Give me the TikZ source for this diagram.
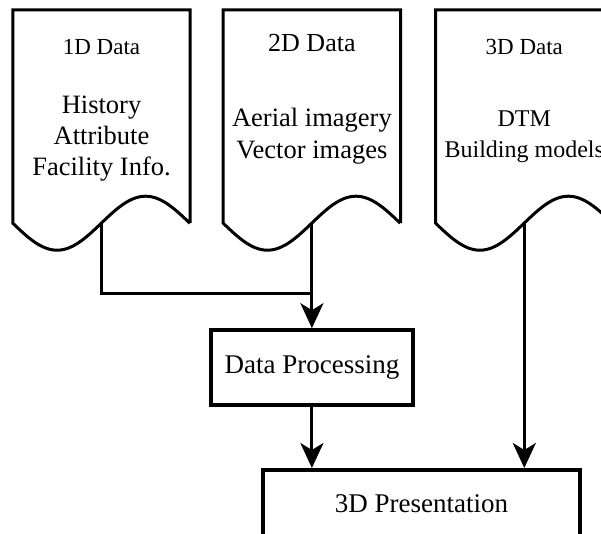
\documentclass[tikz,border=0pt]{standalone}
\usepackage{fontspec}
\setmainfont{Liberation Serif}
\usetikzlibrary{arrows.meta,positioning,calc}

\tikzset{
	docbox/.style={minimum width=177pt, minimum height=213pt, inner sep=0pt},
	docline/.style={line width=3pt},
	hdr/.style={font=\fontsize{23}{27}\selectfont, inner sep=0pt},
	body/.style={font=\fontsize{26.5}{31}\selectfont, align=center, inner sep=0pt},
	stepbox/.style={draw, line width=3.5pt, minimum height=75pt, font=\fontsize{27}{31}\selectfont},
	link/.style={line width=3pt},
	flow/.style={line width=3pt, -{Stealth[length=25pt,width=23pt,inset=7pt]}},
}

% outline of a document symbol around a docbox node
\newcommand{\docoutline}[1]{%
	\draw[docline] (#1.south east) -- (#1.north east) -- (#1.north west) -- (#1.south west)
		sin ++(44.25pt,-27pt) cos ++(44.25pt,27pt) sin ++(44.25pt,27pt) cos ++(44.25pt,-27pt);}

\begin{document}
\begin{tikzpicture}[x=1pt,y=-1pt]
	\useasboundingbox (0,0) rectangle (601,533);
	\clip (0,0) rectangle (601,533);

	\node[docbox] (d1) at (101.5,116.5) {};
	\node[docbox, right=33pt of d1] (d2) {};
	\node[docbox, right=35pt of d2] (d3) {};
	\docoutline{d1}
	\docoutline{d2}
	\docoutline{d3}

	\node[hdr] (h1) at ($(d1.north)+(0,37)$) {1D Data};
	\node[hdr, font=\fontsize{26}{30}\selectfont] (h2) at ($(d2.north)+(0,33)$) {2D Data};
	\node[hdr] (h3) at ($(d3.north)+(0,37)$) {3D Data};

	\node[body] (b1) at ($(d1)+(0,22)$) {History\\Attribute\\Facility Info.};
	\node[body, font=\fontsize{26.5}{32}\selectfont] (b2) at ($(d2)+(0,20)$) {Aerial imagery\\Vector images};
	\node[body, font=\fontsize{24}{31}\selectfont] (b3) at ($(d3)+(0,20)$) {DTM\\Building models};

	\node[stepbox, minimum width=202pt, below=105pt of d2] (proc) {Data Processing};
	\node[stepbox, minimum width=317pt, minimum height=68pt, anchor=north] (pres) at (421.5,468) {3D Presentation};

	\path (d2.south) ++(0,70) coordinate (jn);
	\draw[link] (d1.south) |- (jn);
	\draw[flow] (d2.south) -- (proc);
	\draw[flow] (proc) -- (proc |- pres.north);
	\draw[flow] (d3.south) -- (d3.south |- pres.north);
\end{tikzpicture}
\end{document}
